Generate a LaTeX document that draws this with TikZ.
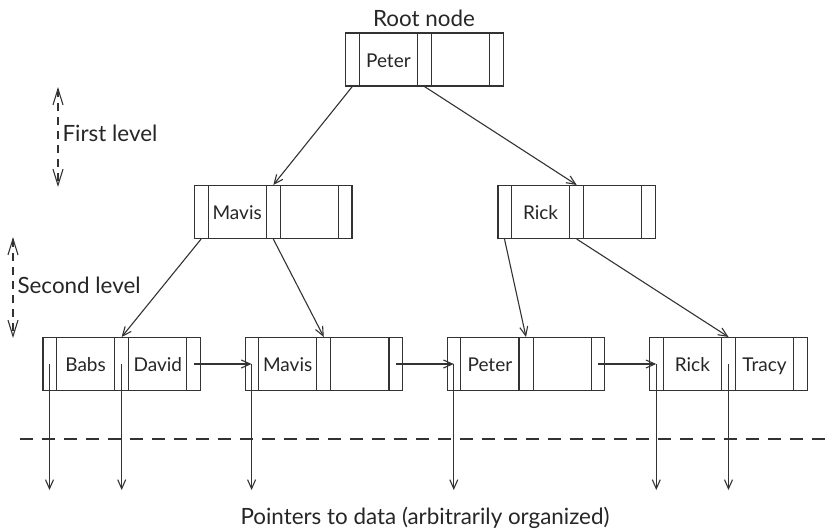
\documentclass[tikz,border=0pt]{standalone}
\usepackage{fontspec}
\setmainfont{Lato}
\usetikzlibrary{shapes.multipart,arrows.meta}

\newcommand{\ptrcell}{\makebox[6.5pt]{\rule[-9.5pt]{0pt}{26.5pt}}}
\newcommand{\keycell}[1]{\makebox[28.5pt]{\rule[-9.5pt]{0pt}{26.5pt}#1}}

\tikzset{
  bnode/.style={draw, rectangle split, rectangle split horizontal, rectangle split parts=5,
    inner xsep=0pt, inner ysep=0pt},
  lbl/.style={font=\fontsize{11.2}{13}\selectfont},
  levelarrow/.style={{Straight Barb[length=8pt,width=5pt]}-{Straight Barb[length=8pt,width=5pt]},
    dash pattern=on 4pt off 3pt},
}

\begin{document}
\begin{tikzpicture}[x=0.5pt, y=-0.5pt, line width=0.55pt, draw=black!80, text=black!85,
    every node/.style={font=\fontsize{9.5}{11}\selectfont},
    >={Straight Barb[length=4.5pt,width=4pt]}]
        \useasboundingbox (0,0) rectangle (827,531);
        % Root
        \node[lbl] (rootlbl) at (424,18) {Root node};
        \node[bnode] (root) at (424.5,59.5) {\ptrcell\nodepart{two}\keycell{Peter}\nodepart{three}\ptrcell\nodepart{four}\keycell{}\nodepart{five}\ptrcell};
        % Second level
        \node[bnode] (mavisI) at (273.3,212) {\ptrcell\nodepart{two}\keycell{Mavis}\nodepart{three}\ptrcell\nodepart{four}\keycell{}\nodepart{five}\ptrcell};
        \node[bnode] (rickI) at (576.7,212) {\ptrcell\nodepart{two}\keycell{Rick}\nodepart{three}\ptrcell\nodepart{four}\keycell{}\nodepart{five}\ptrcell};
        % Leaves
        \node[bnode] (babs) at (121.7,364) {\ptrcell\nodepart{two}\keycell{Babs}\nodepart{three}\ptrcell\nodepart{four}\keycell{David}\nodepart{five}\ptrcell};
        \node[bnode] (mavisL) at (323.8,364) {\ptrcell\nodepart{two}\keycell{Mavis}\nodepart{three}\ptrcell\nodepart{four}\keycell{}\nodepart{five}\ptrcell};
        \node[bnode] (peterL) at (526,364) {\ptrcell\nodepart{two}\keycell{Peter}\nodepart{three}\ptrcell\nodepart{four}\keycell{}\nodepart{five}\ptrcell};
        \node[bnode] (rickL) at (728.5,364) {\ptrcell\nodepart{two}\keycell{Rick}\nodepart{three}\ptrcell\nodepart{four}\keycell{Tracy}\nodepart{five}\ptrcell};

        % Levels
        \coordinate (l1top) at (58,87);
        \coordinate (l1bot) at (58,187);
        \coordinate (l2top) at (13,237);
        \coordinate (l2bot) at (13,338);
        \draw[levelarrow] (l1top) -- node[lbl, right, inner sep=2pt, yshift=2pt] {First level} (l1bot);
        \draw[levelarrow] (l2top) -- node[lbl, right, inner sep=2pt, yshift=1pt] {Second level} (l2bot);

        % Tree pointers
        \draw[->] (root.one south) -- (mavisI.three north);
        \draw[->] (root.three south) -- (rickI.three north);
        \draw[->] (mavisI.one south) -- (babs.three north);
        \draw[->] (mavisI.three south) -- (mavisL.three north);
        \draw[->] (rickI.one south) -- (peterL.three north);
        \draw[->] (rickI.three south) -- (rickL.three north);

        % Leaf chain
        \draw[->] (babs.five south |- babs.center) -- (mavisL.one south |- mavisL.center);
        \draw[->] (mavisL.five south |- mavisL.center) -- (peterL.one south |- peterL.center);
        \draw[->] (peterL.five south |- peterL.center) -- (rickL.one south |- rickL.center);

        % Data pointers
        \coordinate (cutL) at (20,439);
        \coordinate (cutR) at (827,439);
        \draw[dash pattern=on 6.5pt off 4.5pt] (cutL) -- (cutR);
        \coordinate (data) at (0,490);
        \draw[->] (babs.one south |- babs.center) -- (babs.one south |- data);
        \draw[->] (babs.three south |- babs.center) -- (babs.three south |- data);
        \draw[->] (mavisL.one south |- mavisL.center) -- (mavisL.one south |- data);
        \draw[->] (peterL.one south |- peterL.center) -- (peterL.one south |- data);
        \draw[->] (rickL.one south |- rickL.center) -- (rickL.one south |- data);
        \draw[->] (rickL.three south |- rickL.center) -- (rickL.three south |- data);
        \node[lbl] (datalbl) at (425,518) {Pointers to data (arbitrarily organized)};
    \end{tikzpicture}
\end{document}
